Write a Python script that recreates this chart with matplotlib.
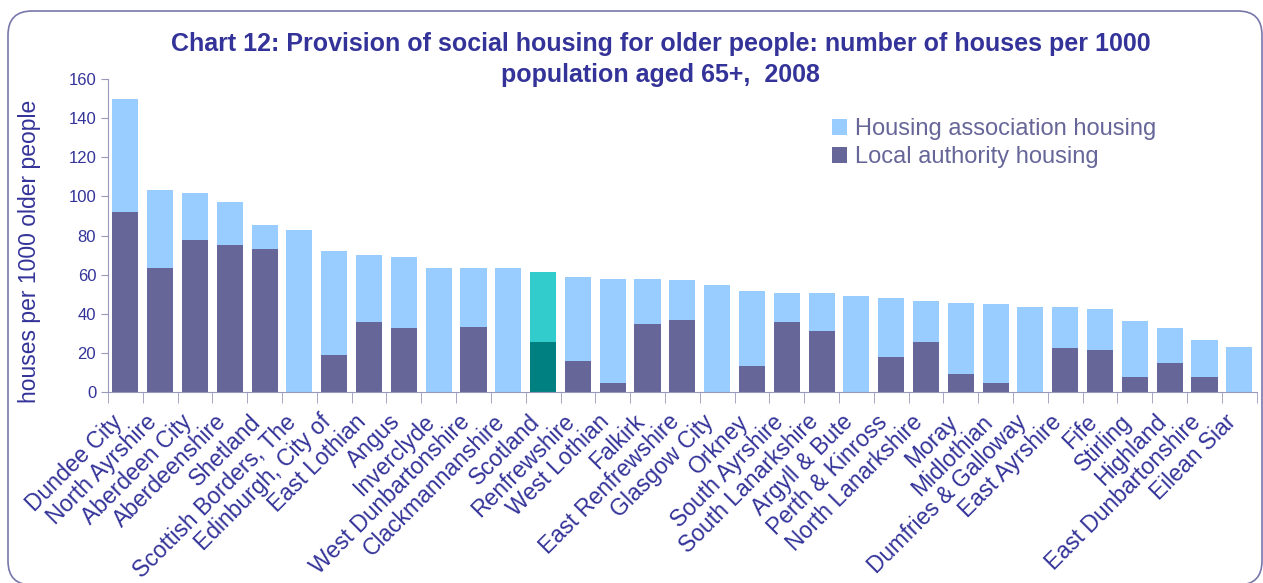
import numpy as np
import matplotlib.pyplot as plt
from matplotlib.patches import FancyBboxPatch
from matplotlib.transforms import IdentityTransform, ScaledTranslation

plt.rcParams.update({
    "font.family": ["Liberation Sans", "DejaVu Sans"],
    "font.size": 12,
})

areas = ["Dundee City", "North Ayrshire", "Aberdeen City", "Aberdeenshire", "Shetland",
         "Scottish Borders, The", "Edinburgh, City of", "East Lothian", "Angus", "Inverclyde",
         "West Dunbartonshire", "Clackmannanshire", "Scotland", "Renfrewshire", "West Lothian",
         "Falkirk", "East Renfrewshire", "Glasgow City", "Orkney", "South Ayrshire",
         "South Lanarkshire", "Argyll & Bute", "Perth & Kinross", "North Lanarkshire", "Moray",
         "Midlothian", "Dumfries & Galloway", "East Ayrshire", "Fife", "Stirling",
         "Highland", "East Dunbartonshire", "Eilean Siar"]
# totals (LA + HA) and local authority part
total = np.array([150, 103.5, 101.5, 97.3, 85.5, 83, 72.2, 70, 69, 63.5,
                  63.5, 63.5, 61.3, 58.8, 57.8, 57.8, 57.3, 54.7, 51.6, 50.6,
                  50.6, 49.1, 48.1, 46.5, 45.5, 45.0, 43.5, 43.5, 42.4, 36.3,
                  32.7, 26.6, 23.0])
local_auth = np.array([91.8, 63.4, 77.7, 75.2, 73.1, 0, 18.9, 35.8, 32.7, 0,
                       33.2, 0, 25.6, 15.8, 4.6, 34.8, 36.8, 0, 13.3, 35.8,
                       31.2, 0, 17.9, 25.6, 9.2, 4.6, 0, 22.5, 21.5, 7.7,
                       14.8, 7.7, 0])
housing_assoc = total - local_auth

navy = "#333399"
la_col = "#666699"
ha_col = "#99CCFF"
la_col_scot = "#008080"
ha_col_scot = "#33CCCC"

la_colors = [la_col_scot if a == "Scotland" else la_col for a in areas]
ha_colors = [ha_col_scot if a == "Scotland" else ha_col for a in areas]

fig = plt.figure(figsize=(12.63, 5.83), dpi=100)
ax = fig.add_axes([0.0855, 0.3276, 0.9095, 0.5369])

x = np.arange(len(areas))
ax.bar(x, local_auth, width=0.75, color=la_colors, label="Local authority housing")
ax.bar(x, housing_assoc, width=0.75, bottom=local_auth, color=ha_colors,
       label="Housing association housing")

ax.set_xlim(-0.5, len(areas) - 0.5)
ax.set_ylim(0, 160)
ax.set_yticks(np.arange(0, 161, 20))
ax.tick_params(axis="y", colors="#9999bb", labelcolor=navy, labelsize=12, length=5, direction="out")
ax.set_xticks(x)
ax.set_xticklabels(areas, rotation=45, ha="right", va="center", rotation_mode="anchor",
                   fontsize=16.5, color=navy)
ax.tick_params(axis="x", length=0, pad=19)
# nudge the slanted labels a little to the left
shift = ScaledTranslation(-5 / 72, 0, fig.dpi_scale_trans)
for lab in ax.get_xticklabels():
    lab.set_transform(lab.get_transform() + shift)
ax.set_xticks(np.arange(-0.5, len(areas), 1), minor=True)
ax.tick_params(axis="x", which="minor", length=8, color="#9999bb")

for s in ["top", "right"]:
    ax.spines[s].set_visible(False)
ax.spines["left"].set_color("#9999bb")
ax.spines["bottom"].set_color("#9999bb")

ax.set_ylabel("houses per 1000 older people", fontsize=16.5, color=navy)
ax.yaxis.set_label_coords(-0.0585, 0.45)

h, l = ax.get_legend_handles_labels()
leg = ax.legend(h[::-1], l[::-1], loc="upper left", bbox_to_anchor=(0.6495, 0.817),
                bbox_transform=fig.transFigure, frameon=False, fontsize=17, borderpad=0,
                handlelength=0.65, handleheight=0.65, handletextpad=0.3, labelspacing=0.25)
for t in leg.get_texts():
    t.set_color(la_col)

fig.text(0.523, 0.898, "Chart 12: Provision of social housing for older people: number of houses per 1000\n"
         "population aged 65+,  2008", ha="center", va="center", fontsize=18,
         fontweight="bold", color=navy, linespacing=1.32)

# rounded border round the figure, in pixel coords
frame = FancyBboxPatch((8, -2), 1254, 574, boxstyle="round,pad=0,rounding_size=24",
                       transform=IdentityTransform(), fill=False, edgecolor="#7777aa",
                       linewidth=1.2)
fig.patches.append(frame)

fig.savefig("out.png", dpi=100)
